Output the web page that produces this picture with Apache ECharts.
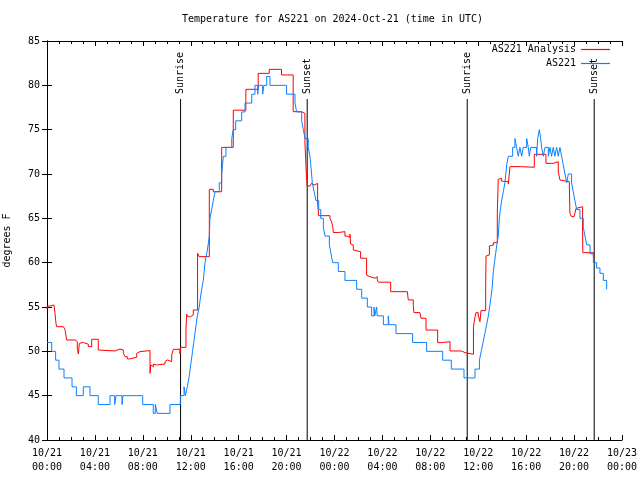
<!DOCTYPE html>
<html>
<head>
<meta charset="utf-8">
<script src="https://cdn.jsdelivr.net/npm/echarts/dist/echarts.min.js"></script>
<style>
html,body{margin:0;padding:0;background:#fff;}
#chart{width:640px;height:480px;}
</style>
</head>
<body>
<div id="chart"></div>
<script>
const titleText = 'Temperature for AS221 on 2024-Oct-21 (time in UTC)';
const xTickLabels = ['10/21\n00:00','10/21\n04:00','10/21\n08:00','10/21\n12:00','10/21\n16:00','10/21\n20:00',
  '10/22\n00:00','10/22\n04:00','10/22\n08:00','10/22\n12:00','10/22\n16:00','10/22\n20:00','10/23\n00:00'];

// AS221 Analysis (hours since 10/21 00:00 UTC, deg F)
const analysisHours = [0,0.03,0.25,0.58,0.67,0.75,0.81,1.09,1.14,1.22,1.36,1.5,1.64,2.34,2.42,2.53,2.62,2.7,2.75,3.03,3.17,3.45,3.73,4.28,4.42,5.68,5.81,6.09,6.37,6.51,6.7,6.87,7.49,7.62,7.76,8.6,8.66,8.74,8.88,9.02,9.15,9.85,9.93,10.04,10.13,10.41,10.55,11.1,11.14,11.6,11.66,11.76,11.96,12.04,12.21,12.57,12.7,13.55,13.88,14.58,15.55,16.6,17.63,18.55,19.58,20.55,21.25,21.53,21.66,21.73,21.95,22.09,22.23,22.3,22.59,22.68,23.62,23.76,23.85,23.9,24.32,24.4,24.87,25.07,25.15,25.29,25.35,25.51,25.57,25.63,26.18,26.68,26.82,26.96,27.38,27.57,27.66,28.69,30.08,30.16,30.58,30.63,31.13,31.22,31.64,32.61,32.9,33.64,34.6,34.9,35.6,35.73,35.81,36.0,36.14,36.23,36.62,36.65,36.8,36.93,37.0,37.26,37.59,37.67,37.8,37.95,38.09,38.51,38.65,39.62,40.68,41.65,42.26,42.68,42.82,42.96,43.6,43.65,43.79,44.0,44.16,44.27,44.71,44.73,45.61,45.7];
const analysisTemps = [54.8,55.1,55.23,55.04,54.29,53.16,52.78,52.7,52.6,52.78,52.66,52.48,51.28,51.47,51.09,50.34,49.7,50.9,51.0,51.09,50.8,50.53,51.36,50.15,50.04,50.15,50.26,50.15,49.78,49.4,49.14,49.33,49.78,49.97,50.08,47.52,48.46,48.27,48.57,48.46,48.57,48.84,49.03,49.14,48.84,49.6,50.23,49.7,50.45,52.41,54.18,53.9,53.73,54.1,54.66,61.06,60.68,68.27,68.0,73.0,77.2,79.55,81.35,81.8,81.17,77.03,76.84,73.6,69.6,68.65,68.83,68.95,68.75,68.95,66.7,65.3,65.0,64.6,64.06,63.4,63.3,63.5,63.0,63.2,62.86,63.2,62.1,62.0,61.43,61.24,60.5,58.6,58.42,58.24,58.42,58.05,57.8,56.73,56.55,55.8,55.04,54.37,54.3,53.73,52.4,50.98,51.09,50.04,49.85,49.67,52.78,53.91,54.36,54.1,53.35,54.59,57.67,60.75,60.87,61.88,61.99,62.25,65.56,69.4,69.5,69.2,69.13,68.87,70.83,70.76,72.22,71.2,71.39,70.26,69.32,69.13,69.32,65.56,65.19,65.37,66.12,66.31,63.69,61.13,60.68,60.68];

// AS221 observations
const obsHours = [0,0.39,0.72,1.0,1.42,2.09,2.45,3.03,3.59,4.28,5.26,5.65,5.76,6.26,6.34,7.99,8.87,9.04,9.2,10.27,11.13,11.44,11.55,11.71,11.85,11.95,12.05,12.15,12.25,12.35,12.45,12.55,12.71,12.8,12.91,13.05,13.12,13.19,13.33,13.45,13.55,13.58,13.6,13.75,13.88,14.02,14.38,14.58,14.65,14.72,14.94,15.42,15.55,15.75,16.25,16.53,17.09,17.36,17.59,17.65,18.0,18.1,18.34,18.61,20.0,20.7,20.84,21.26,21.4,21.54,21.81,21.95,22.02,22.15,22.3,22.45,22.68,22.85,23.07,23.21,23.57,23.71,23.85,24.32,24.87,25.85,26.27,26.74,27.1,27.3,27.36,27.52,27.56,28.08,28.49,28.55,29.13,30.52,31.69,33.03,33.75,34.81,35.73,36.1,36.25,36.4,36.55,36.7,36.84,36.95,37.05,37.15,37.26,37.35,37.45,37.55,37.67,37.76,37.85,37.95,38.09,38.23,38.37,38.51,38.87,39.06,39.2,39.34,39.48,39.62,39.76,40.04,40.18,40.26,40.37,40.87,40.96,41.1,41.21,41.29,41.43,41.57,41.85,41.99,42.12,42.26,42.4,42.54,42.68,42.82,42.96,43.1,43.24,43.38,43.52,43.79,43.93,44.07,44.21,44.49,44.77,44.91,45.05,45.33,45.61,45.88,46.16,46.44,46.72];
const obsTemps = [51,50,49,48,47,46,45,46,45,44,45,44,45,44,45,44,43,44,43,44,45,46,45,46,47,48,49,50,51,52,53,54,55,56,57,58,59,60,61,62,63,64,65,66,67,68,69,70,71,72,73,74,75,76,77,78,79,80,79,80,79,80,81,80,79,78,77,76,75,74,73,72,71,69,68,67,66,65,64,63,62,61,60,59,58,57,56,55,54,55,54,55,54,53,54,53,52,51,50,49,48,47,48,49,50,51,52,53,54,55,56,57,59,60,61,62,63,65,66,67,68,69,71,72,73,74,73,72,73,72,73,74,73,72,73,72,74,75,74,73,72,73,72,73,72,73,72,73,72,73,72,71,70,69,70,69,68,67,66,65,64,63,62,61,60,59.4,58.8,58,57];

// Sunrise / sunset times (hours)
const sunHours = [11.15, 21.72, 35.08, 45.68];
const sunLabels = ['Sunrise', 'Sunset', 'Sunrise', 'Sunset'];

const FONT = '"DejaVu Sans Mono", monospace';
const chart = echarts.init(document.getElementById('chart'), null, {renderer: 'canvas'});

const axisLineStyle = {color: '#000', width: 1};
const xCommon = {
  type: 'value', min: 0, max: 48, interval: 4,
  splitLine: {show: false},
  axisLine: {show: true, lineStyle: axisLineStyle},
  axisTick: {show: true, inside: true, length: 5, lineStyle: axisLineStyle},
  minorTick: {show: true, splitNumber: 4, length: 3, lineStyle: axisLineStyle},
  minorSplitLine: {show: false}
};
const yCommon = {
  type: 'value', min: 40, max: 85, interval: 5,
  splitLine: {show: false},
  axisLine: {show: true, lineStyle: axisLineStyle},
  axisTick: {show: true, inside: true, length: 5, lineStyle: axisLineStyle}
};

chart.setOption({
  backgroundColor: '#fff',
  animation: false,
  title: {
    text: titleText, left: 182, top: 14, padding: 0,
    textStyle: {fontFamily: FONT, fontSize: 10, fontWeight: 'normal', color: '#000'}
  },
  legend: {
    orient: 'vertical', align: 'right', right: 30, top: 44, padding: 0,
    itemWidth: 29, itemHeight: 1.2, itemGap: 3, icon: 'rect',
    textStyle: {fontFamily: FONT, fontSize: 10, color: '#000', lineHeight: 11},
    data: ['AS221 Analysis', 'AS221']
  },
  grid: {left: 47, right: 18, top: 41, bottom: 40, containLabel: false, outerBoundsMode: 'none'},
  xAxis: [
    Object.assign({}, xCommon, {
      position: 'bottom',
      axisLabel: {
        show: true, margin: 6, color: '#000', fontFamily: FONT, fontSize: 10, lineHeight: 14,
        formatter: v => xTickLabels[Math.round(v / 4)]
      }
    }),
    Object.assign({}, xCommon, {position: 'top', axisLabel: {show: false}})
  ],
  yAxis: [
    Object.assign({}, yCommon, {
      position: 'left',
      name: 'degrees F', nameLocation: 'middle', nameGap: 35, nameRotate: 90,
      nameTextStyle: {fontFamily: FONT, fontSize: 10, color: '#000'},
      axisLabel: {show: true, margin: 7, color: '#000', fontFamily: FONT, fontSize: 10}
    }),
    Object.assign({}, yCommon, {position: 'right', axisLabel: {show: false}})
  ],
  series: [
    {
      type: 'custom', silent: true, z: 1,
      xAxisIndex: 0, yAxisIndex: 0,
      data: sunHours.map(h => [h, 40]),
      renderItem: function (params, api) {
        const p = api.coord([api.value(0), api.value(1)]);
        const topY = params.coordSys.y + 58;
        const label = sunLabels[params.dataIndex];
        return {
          type: 'group',
          children: [
            {type: 'line', shape: {x1: p[0], y1: p[1], x2: p[0], y2: topY},
             style: {stroke: '#000', lineWidth: 1}},
            {type: 'text', x: p[0], y: topY - 5, rotation: Math.PI / 2,
             style: {text: label, align: 'left', verticalAlign: 'middle',
                     textAlign: 'left', textVerticalAlign: 'middle',
                     font: '10px ' + FONT, fill: '#000'}}
          ]
        };
      }
    },
    {
      name: 'AS221 Analysis', type: 'line', step: 'end', showSymbol: false, symbol: 'none', z: 2,
      xAxisIndex: 0, yAxisIndex: 0,
      color: '#ff0000', lineStyle: {color: '#ff0000', width: 1},
      data: analysisHours.map((h, i) => [h, analysisTemps[i]])
    },
    {
      name: 'AS221', type: 'line', step: 'end', showSymbol: false, symbol: 'none', z: 3,
      xAxisIndex: 0, yAxisIndex: 0,
      color: '#0a80ff', lineStyle: {color: '#0a80ff', width: 1},
      data: obsHours.map((h, i) => [h, obsTemps[i]])
    }
  ]
});
</script>
</body>
</html>
